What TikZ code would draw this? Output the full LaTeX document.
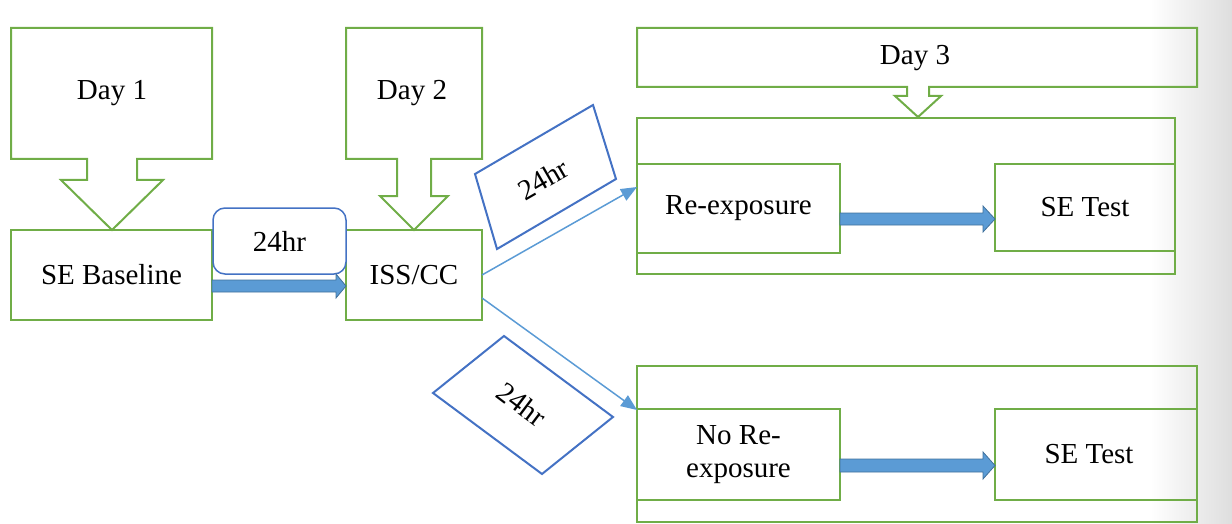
\documentclass[tikz,border=0pt]{standalone}
\usepackage{fontspec}
\setmainfont{Liberation Serif}
\usetikzlibrary{calc,arrows.meta}
\definecolor{gr}{HTML}{70AD47}
\definecolor{bl}{HTML}{4472C4}
\definecolor{lb}{HTML}{5B9BD5}
\definecolor{db}{HTML}{41719C}
\tikzset{
  gbox/.style={draw=gr, line width=2pt, rectangle, inner sep=0pt, outer sep=0pt, align=center},
  gpath/.style={draw=gr, line width=2pt, line join=miter},
  bpath/.style={draw=bl, line width=2pt, line join=miter},
  lbl/.style={inner sep=0pt, align=center},
  thinarrow/.style={draw=lb, line width=1.5pt, -{Triangle[length=16pt,width=13pt]}},
  blockarrow/.style={fill=lb, draw=db, line width=0.8pt, line join=miter}
}
\begin{document}
\begin{tikzpicture}[x=1pt,y=-1pt,font=\fontsize{29}{33}\selectfont]
\useasboundingbox (0,0) rectangle (1232,524);
\shade[left color=white, right color=black!13] (1150,0) rectangle (1232,524);

% Day 1 callout
\draw[gpath] (11,28) -- (212,28) -- (212,159) -- (137,159) -- (137,180) -- (163,180)
  -- (112,230) -- (61,180) -- (87,180) -- (87,159) -- (11,159) -- cycle;
\node[lbl] (d1) at (112,93) {Day 1};
% Day 2 callout
\draw[gpath] (346,28) -- (482,28) -- (482,159) -- (431,159) -- (431,196) -- (448,196)
  -- (414,230) -- (380,196) -- (397,196) -- (397,159) -- (346,159) -- cycle;
\node[lbl] (d2) at (412,93) {Day 2};
% Day 3 callout
\draw[gpath] (637,28) -- (1197,28) -- (1197,87) -- (929,87) -- (929,96) -- (941,96)
  -- (918,117) -- (895,96) -- (907,96) -- (907,87) -- (637,87) -- cycle;
\node[lbl] (d3) at (915,58) {Day 3};

% main boxes
\node[gbox, minimum width=201pt, minimum height=90pt] (se) at (111.5,275) {SE Baseline};
\node[gbox, minimum width=136pt, minimum height=90pt] (iss) at (414,275) {ISS/CC};
\node[draw=bl, line width=1.5pt, rounded corners=12pt, fill=white, inner sep=0pt,
      minimum width=133pt, minimum height=66pt] (h24) at (279.5,241) {24hr};

% block arrow SE -> ISS
\draw[blockarrow] ($(se.east)+(0,5)$) -- ($(iss.west)+(-10,5)$) -- ($(iss.west)+(-10,-1)$)
  -- ($(iss.west)+(0,11)$) -- ($(iss.west)+(-10,23)$) -- ($(iss.west)+(-10,17)$)
  -- ($(se.east)+(0,17)$) -- cycle;

% Day 3 upper group
\node[gbox, minimum width=538pt, minimum height=156pt] (out1) at (906,196) {};
\node[gbox, minimum width=203pt, minimum height=89pt] (rex) at (738.5,208.5) {Re-exposure};
\node[gbox, minimum width=180pt, minimum height=87pt] (set1) at (1085,207.5) {SE Test};
\coordinate (e1) at (set1.west |- rex.east);
\draw[blockarrow] ($(rex.east)+(0,4.5)$) -- ($(e1)+(-12,4.5)$) -- ($(e1)+(-12,-2.5)$)
  -- ($(e1)+(0,10.5)$) -- ($(e1)+(-12,23.5)$) -- ($(e1)+(-12,16.5)$)
  -- ($(rex.east)+(0,16.5)$) -- cycle;

% Day 3 lower group
\node[gbox, minimum width=560pt, minimum height=156pt] (out2) at (917,444) {};
\node[gbox, minimum width=203pt, minimum height=91pt] (nrex) at (738.5,454.5) {No Re-\\exposure};
\node[gbox, minimum width=202pt, minimum height=91pt] (set2) at (1096,454.5) {\hspace*{-14pt}SE Test};
\coordinate (e2) at (set2.west |- nrex.east);
\draw[blockarrow] ($(nrex.east)+(0,4.5)$) -- ($(e2)+(-12,4.5)$) -- ($(e2)+(-12,-2.5)$)
  -- ($(e2)+(0,11)$) -- ($(e2)+(-12,24.5)$) -- ($(e2)+(-12,17.5)$)
  -- ($(nrex.east)+(0,17.5)$) -- cycle;

% thin connectors
\coordinate (tA) at (637,187);
\coordinate (tB) at (637,410);
\draw[thinarrow] (iss.east) -- (tA);
\draw[thinarrow] ($(iss.east)+(0,23)$) -- (tB);

% tilted 24hr labels
\draw[bpath] (475,174) -- (593,105) -- (616,179) -- (497,249) -- cycle;
\node[lbl, rotate=30] (h24a) at (543,179) {24hr};
\draw[bpath] (433,393) -- (504,336) -- (613,417) -- (542,474) -- cycle;
\node[lbl, rotate=-37] (h24b) at (522,404) {24hr};
\end{tikzpicture}
\end{document}
